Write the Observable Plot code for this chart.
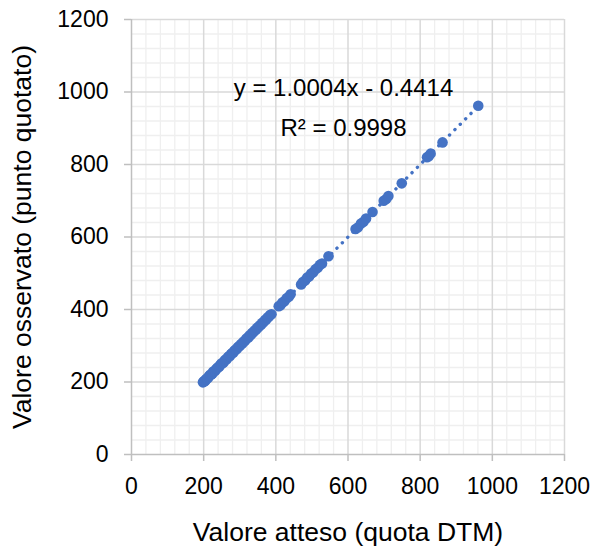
<!DOCTYPE html>
<html>
<head>
<meta charset="utf-8">
<script src="https://cdn.jsdelivr.net/npm/d3@7"></script>
<script src="https://cdn.jsdelivr.net/npm/@observablehq/plot@0.6"></script>
<style>
  html, body { margin: 0; padding: 0; background: #fff; }
</style>
</head>
<body>
<div id="chart"></div>
<script>
// Expected values (quota DTM)
const expected = [198,200,202,204,206,208,211,213,216,218,221,224,226,229,232,235,237,240,243,246,249,252,255,258,261,264,267,270,273,276,279,282,285,288,291,294,297,300,303,307,310,314,317,320,324,327,331,334,338,341,345,348,352,355,359,362,366,370,373,377,380,384,388,408,413,418,424,430,436,441,470,475,481,487,492,498,504,510,516,522,528,546,621,628,636,643,650,668,699,706,712,749,819,824,829,862,961];
// Observed values (punto quotato)
const observed = [199,201,203,203,207,209,210,214,217,220,221,223,228,230,231,236,238,241,242,247,251,252,254,259,262,263,268,271,272,277,280,281,286,289,290,295,298,299,304,306,311,313,318,321,323,328,330,335,337,342,344,349,351,356,358,363,365,371,372,378,379,385,387,409,412,419,423,431,435,442,469,476,480,488,491,499,503,511,515,523,527,547,622,627,637,642,651,669,700,705,713,748,820,823,830,861,962];
const xTicks = [0,200,400,600,800,1000,1200];
const yTicks = [0,200,400,600,800,1000,1200];
const minorTicks = [40,80,120,160,240,280,320,360,440,480,520,560,640,680,720,760,840,880,920,960,1040,1080,1120,1160];
const slope = 1.0004, intercept = -0.4414;
const trendX = [198, 962];
const equationText = "y = 1.0004x - 0.4414";
const r2Text = "R² = 0.9998";
const xLabel = "Valore atteso (quota DTM)";
const yLabel = "Valore osservato (punto quotato)";

const points = expected.map((x, i) => ({x, y: observed[i]}));
const trend = trendX.map(x => ({x, y: slope * x + intercept}));

const blue = "#4472C4";
const chart = Plot.plot({
  width: 592,
  height: 551,
  marginLeft: 131,
  marginRight: 28,
  marginTop: 19,
  marginBottom: 97,
  style: {fontFamily: "'Liberation Sans', Arial, sans-serif", background: "#fff", color: "#000"},
  x: {domain: [0, 1200]},
  y: {domain: [0, 1200]},
  marks: [
    Plot.ruleX(minorTicks, {stroke: "#efefef", strokeWidth: 1.3}),
    Plot.ruleY(minorTicks, {stroke: "#efefef", strokeWidth: 1.3}),
    Plot.ruleX(xTicks.slice(1), {stroke: "#d9d9d9", strokeWidth: 1.5}),
    Plot.ruleY(yTicks.slice(1), {stroke: "#d9d9d9", strokeWidth: 1.5}),
    Plot.ruleX([0], {stroke: "#bfbfbf", strokeWidth: 1.5}),
    Plot.ruleY([0], {stroke: "#bfbfbf", strokeWidth: 1.5}),
    Plot.axisX(xTicks, {tickSize: 7, stroke: "#bfbfbf", strokeWidth: 1.5, fontSize: 23, tickPadding: 16, label: null, fill: "#000", tickFormat: d => String(d)}),
    Plot.axisY(yTicks, {tickSize: 7, stroke: "#bfbfbf", strokeWidth: 1.5, fontSize: 23, tickPadding: 16, label: null, fill: "#000", tickFormat: d => String(d)}),
    Plot.line(trend, {x: "x", y: "y", stroke: blue, strokeWidth: 3.4, strokeDasharray: "0.1 7.5", strokeLinecap: "round"}),
    Plot.dot(points, {x: "x", y: "y", r: 5.3, fill: blue, stroke: "none"}),
    Plot.text([equationText], {frameAnchor: "top-left", dx: 212, dy: 69, text: d => d, fontSize: 24, textAnchor: "middle", lineAnchor: "middle", fill: "#000"}),
    Plot.text([r2Text], {frameAnchor: "top-left", dx: 212, dy: 109, text: d => d, fontSize: 24, textAnchor: "middle", lineAnchor: "middle", fill: "#000"}),
    Plot.text([xLabel], {frameAnchor: "bottom", dy: 78, text: d => d, fontSize: 26.5, textAnchor: "middle", lineAnchor: "middle", fill: "#000"}),
    Plot.text([yLabel], {frameAnchor: "left", dx: -109, rotate: -90, text: d => d, fontSize: 26.5, textAnchor: "middle", lineAnchor: "middle", fill: "#000"})
  ]
});
document.getElementById("chart").appendChild(chart);
</script>
</body>
</html>
